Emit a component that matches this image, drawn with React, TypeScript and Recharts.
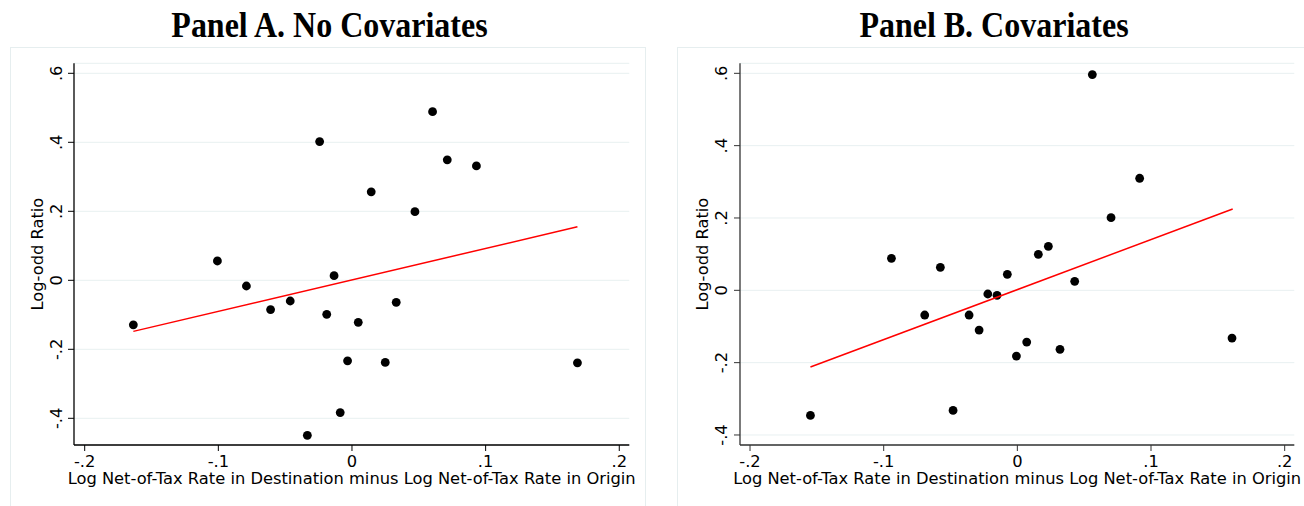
import React from "react";
import { ScatterChart, Scatter, XAxis, YAxis, CartesianGrid, Label } from "recharts";

// Panel A: No Covariates
const panelAX = [-0.1636, -0.1007, -0.079, -0.0609, -0.0462, -0.0242, -0.0189, -0.0134, -0.0033, -0.0088, -0.0334, 0.0047, 0.0144, 0.0249, 0.0331, 0.0471, 0.0603, 0.0713, 0.0931, 0.1687];
const panelAY = [-0.129, 0.056, -0.0165, -0.085, -0.06, 0.402, -0.0985, 0.0133, -0.2333, -0.3835, -0.4495, -0.1217, 0.2565, -0.2381, -0.0638, 0.1988, 0.4887, 0.3493, 0.3315, -0.2391];
const panelAFitX = [-0.1636, 0.1687];
const panelAFitY = [-0.148, 0.155];

// Panel B: Covariates
const panelBX = [-0.1548, -0.0942, -0.0576, -0.0693, -0.0481, -0.0361, -0.0286, -0.0221, -0.0152, -0.0075, -0.0007, 0.007, 0.0157, 0.0232, 0.0319, 0.0429, 0.0561, 0.0701, 0.0915, 0.1606];
const panelBY = [-0.3458, 0.0885, 0.0636, -0.0683, -0.332, -0.0683, -0.1098, -0.0102, -0.0138, 0.0443, -0.1817, -0.143, 0.0996, 0.1217, -0.1632, 0.0249, 0.5964, 0.2008, 0.3098, -0.132];
const panelBFitX = [-0.1548, 0.1611];
const panelBFitY = [-0.2122, 0.2249];

const xTicks = [-0.2, -0.1, 0, 0.1, 0.2];
const yTicks = [-0.4, -0.2, 0, 0.2, 0.4, 0.6];

const titles = ["Panel A. No Covariates", "Panel B. Covariates"];
const xTitle = "Log Net-of-Tax Rate in Destination minus Log Net-of-Tax Rate in Origin";
const yTitle = "Log-odd Ratio";

const zip = (xs: number[], ys: number[]) => xs.map((x, i) => ({ x, y: ys[i] }));

const fmt = (v: number) => {
  if (Math.abs(v) < 1e-9) return "0";
  const s = String(Math.abs(v)).replace(/^0/, "");
  return (v < 0 ? "-" : "") + s;
};

const FONT = "'DejaVu Sans', sans-serif";
const FS = 16.3;

const Dot = (props: any) => <circle cx={props.cx} cy={props.cy} r={4.4} fill="#000" />;
const NoShape = () => <g />;

type PanelProps = {
  left: number;
  pts: { x: number; y: number }[];
  fit: { x: number; y: number }[];
  plotLeft: number;
  plotRight: number;
  xDomain: [number, number];
  yDomain: [number, number];
  yTickBase: number;
  yTitleX: number;
  axisColor: string;
};

const W = 652;
const H = 506;
const PLOT_TOP = 63.3;
const PLOT_BOTTOM = 445;

const Panel = ({ left, pts, fit, plotLeft, plotRight, xDomain, yDomain, yTickBase, yTitleX, axisColor }: PanelProps) => {
  const cx = (plotLeft + plotRight) / 2;
  const cy = (PLOT_TOP + PLOT_BOTTOM) / 2;
  const margin = { top: PLOT_TOP, right: W - plotRight, bottom: H - PLOT_BOTTOM - 30, left: plotLeft - 40 };
  const YTick = (props: any) => {
    const { y, payload } = props;
    return (
      <text x={yTickBase} y={y} transform={`rotate(-90 ${yTickBase} ${y})`} textAnchor="middle" fontSize={FS} fontFamily={FONT} fill="#000">
        {fmt(payload.value)}
      </text>
    );
  };
  const XTick = (props: any) => {
    const { x, payload } = props;
    return (
      <text x={x} y={466.7} textAnchor="middle" fontSize={FS} fontFamily={FONT} fill="#000">
        {fmt(payload.value)}
      </text>
    );
  };
  return (
    <div style={{ position: "absolute", left, top: 0 }}>
      <ScatterChart width={W} height={H} margin={margin}>
        <CartesianGrid vertical={false} stroke="#e8f0f1" strokeWidth={1} />
        <XAxis
          type="number"
          dataKey="x"
          domain={xDomain}
          ticks={xTicks}
          allowDataOverflow
          height={30}
          tickSize={6}
          tickMargin={2}
          tick={XTick}
          stroke={axisColor}
          tickLine={{ stroke: axisColor }}
          axisLine={{ stroke: axisColor, strokeWidth: 1.3 }}
        >
          <Label
            content={() => (
              <text x={cx} y={483.5} textAnchor="middle" fontSize={FS} fontFamily={FONT} fill="#000">
                {xTitle}
              </text>
            )}
          />
        </XAxis>
        <YAxis
          type="number"
          dataKey="y"
          domain={yDomain}
          ticks={yTicks}
          allowDataOverflow
          width={40}
          tickSize={6}
          tickMargin={2}
          tick={YTick}
          stroke={axisColor}
          tickLine={{ stroke: axisColor }}
          axisLine={{ stroke: axisColor, strokeWidth: 1.3 }}
        >
          <Label
            content={() => (
              <text x={yTitleX} y={cy} transform={`rotate(-90 ${yTitleX} ${cy})`} textAnchor="middle" fontSize={FS} fontFamily={FONT} fill="#000">
                {yTitle}
              </text>
            )}
          />
        </YAxis>
        <Scatter data={pts} shape={Dot} isAnimationActive={false} />
        <Scatter data={fit} shape={NoShape} line={{ stroke: "#ff0000", strokeWidth: 1.5 }} isAnimationActive={false} />
      </ScatterChart>
    </div>
  );
};

export default function App() {
  return (
    <div style={{ position: "absolute", left: 0, top: 0, width: 1304, height: 506, background: "#fff", overflow: "hidden" }}>
      <div style={{ position: "absolute", left: 10, top: 47, width: 636, height: 480, border: "1px solid #e6eeef", boxSizing: "border-box" }} />
      <div style={{ position: "absolute", left: 677, top: 47, width: 630, height: 480, border: "1px solid #e6eeef", boxSizing: "border-box" }} />
      <Panel
        left={0}
        pts={zip(panelAX, panelAY)}
        fit={zip(panelAFitX, panelAFitY)}
        plotLeft={74}
        plotRight={629.3}
        xDomain={[-0.208, 0.2075]}
        yDomain={[-0.4774, 0.629]}
        yTickBase={61.7}
        yTitleX={43}
        axisColor="#000"
      />
      <Panel
        left={652}
        pts={zip(panelBX, panelBY)}
        fit={zip(panelBFitX, panelBFitY)}
        plotLeft={88}
        plotRight={642.3}
        xDomain={[-0.2075, 0.2072]}
        yDomain={[-0.4277, 0.6277]}
        yTickBase={74.7}
        yTitleX={56}
        axisColor="#333"
      />
      <svg width={1304} height={60} style={{ position: "absolute", left: 0, top: 0 }}>
        {titles.map((t, i) => (
          <text
            key={t}
            x={i === 0 ? 329.5 : 994}
            y={37.3}
            textAnchor="middle"
            fontFamily="'Liberation Serif', 'Times New Roman', serif"
            fontWeight="bold"
            fontSize={32}
            fill="#000"
            transform={`translate(0 37.3) scale(1 1.1) translate(0 -37.3)`}
          >
            {t}
          </text>
        ))}
      </svg>
    </div>
  );
}
